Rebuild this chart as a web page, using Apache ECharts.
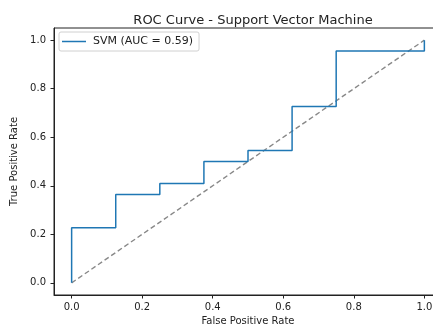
<!DOCTYPE html>
<html>
<head>
<meta charset="utf-8">
<script src="https://cdn.jsdelivr.net/npm/echarts@6/dist/echarts.min.js"></script>
<style>
html, body { margin: 0; padding: 0; background: #fff; }
#chart { width: 433px; height: 325px; }
</style>
</head>
<body>
<div id="chart"></div>
<script>
// ROC curve points (false positive rate, true positive rate)
const fpr = [0, 0, 0.125, 0.125, 0.25, 0.25, 0.375, 0.375, 0.5, 0.5, 0.625, 0.625, 0.75, 0.75, 1, 1];
const tpr = [0, 0.227, 0.227, 0.364, 0.364, 0.409, 0.409, 0.5, 0.5, 0.545, 0.545, 0.727, 0.727, 0.955, 0.955, 1];
const chanceX = [0, 1];
const chanceY = [0, 1];
const tickValues = [0, 0.2, 0.4, 0.6, 0.8, 1.0];
const seriesName = 'SVM (AUC = 0.59)';

const font = 'DejaVu Sans';
const chart = echarts.init(document.getElementById('chart'), null, { renderer: 'canvas' });

function axis(name, nameGap, labelMargin) {
  return {
    type: 'value',
    min: -0.05,
    max: 1.05,
    name: name,
    nameLocation: 'middle',
    nameGap: nameGap,
    nameTextStyle: { fontFamily: font, fontSize: 10, color: '#222' },
    axisLine: { show: true, onZero: false, lineStyle: { color: '#222', width: 1 } },
    axisTick: { show: true, length: 3.5, customValues: tickValues, lineStyle: { color: '#222' } },
    axisLabel: {
      customValues: tickValues,
      fontFamily: font, fontSize: 10, color: '#222',
      margin: labelMargin,
      formatter: v => v.toFixed(1)
    },
    splitLine: { show: false }
  };
}

chart.setOption({
  animation: false,
  backgroundColor: '#fff',
  title: {
    text: 'ROC Curve - Support Vector Machine',
    left: 248, top: 9, textAlign: 'center',
    textStyle: { fontFamily: font, fontSize: 13, fontWeight: 'normal', color: '#222' }
  },
  grid: {
    left: 54, top: 28, width: 388, height: 267,
    outerBoundsMode: 'none',
    containLabel: false,
    show: true, borderColor: '#222', borderWidth: 1, backgroundColor: 'transparent'
  },
  legend: {
    left: 59, top: 32,
    orient: 'vertical',
    padding: [4, 6, 4, 3],
    borderColor: '#d0d0d0', borderWidth: 1, borderRadius: 2,
    backgroundColor: '#fff',
    itemWidth: 24, itemHeight: 2, itemGap: 4,
    textStyle: { fontFamily: font, fontSize: 11, color: '#222', padding: [0, 0, 0, 2] },
    data: [{ name: seriesName, icon: 'path://M0,0 L24,0 L24,1.5 L0,1.5 Z' }]
  },
  xAxis: axis('False Positive Rate', 19, 7),
  yAxis: axis('True Positive Rate', 29, 8),
  series: [
    {
      name: 'chance',
      type: 'line',
      data: chanceX.map((x, i) => [x, chanceY[i]]),
      showSymbol: false,
      lineStyle: { color: '#888888', width: 1.4, type: [5, 3] },
      z: 2,
      silent: true
    },
    {
      name: seriesName,
      type: 'line',
      data: fpr.map((x, i) => [x, tpr[i]]),
      showSymbol: false,
      lineStyle: { color: '#1f77b4', width: 1.5 },
      itemStyle: { color: '#1f77b4' },
      z: 3
    }
  ]
});
</script>
</body>
</html>
